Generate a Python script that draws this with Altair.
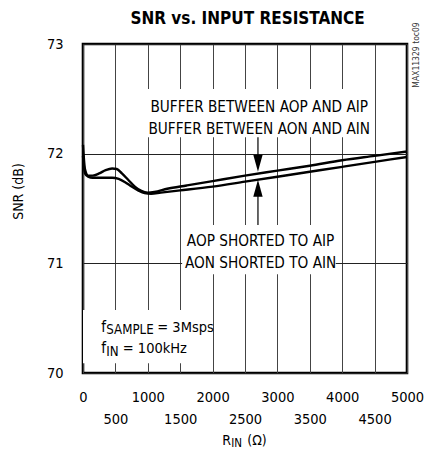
import altair as alt
import pandas as pd

FONT = "DejaVu Sans Condensed, sans-serif"

# --- data ---
buf_r = [0, 30, 80, 150, 250, 350, 450, 520, 600, 700, 800, 900, 1000, 1100, 1300, 1600, 2000, 2500, 3000, 3500, 4000, 4500, 5000]
buf_snr = [72.08, 71.86, 71.80, 71.80, 71.82, 71.85, 71.865, 71.86, 71.82, 71.76, 71.70, 71.66, 71.645, 71.65, 71.68, 71.71, 71.75, 71.80, 71.845, 71.89, 71.94, 71.98, 72.02]

sh_r = [0, 30, 80, 150, 300, 450, 550, 650, 750, 850, 950, 1050, 1200, 1500, 2000, 2500, 3000, 3500, 4000, 4500, 5000]
sh_snr = [71.98, 71.82, 71.79, 71.78, 71.78, 71.78, 71.77, 71.74, 71.70, 71.665, 71.64, 71.635, 71.645, 71.665, 71.70, 71.745, 71.79, 71.835, 71.88, 71.925, 71.97]

x_ticks = list(range(0, 5001, 500))
y_ticks = [70, 71, 72, 73]

title_text = "SNR vs. INPUT RESISTANCE"
buf_labels = ["BUFFER BETWEEN AOP AND AIP", "BUFFER BETWEEN AON AND AIN"]
sh_labels = ["AOP SHORTED TO AIP", "AON SHORTED TO AIN"]

curves = pd.DataFrame(
    {"R": buf_r + sh_r,
     "SNR": buf_snr + sh_snr,
     "series": ["Buffer"] * len(buf_r) + ["Shorted"] * len(sh_r)}
)

xaxis = alt.Axis(
    values=x_ticks, format="d", grid=True, gridColor="#444", gridWidth=1,
    domain=False, ticks=False, tickSize=0,
    labelFont=FONT, labelFontSize=14.5, labelColor="#000",
    labelFlush=False, labelOverlap=False,
    labelPadding={"condition": {"test": "datum.value % 1000 != 0", "value": 39}, "value": 17},
    title=None,
)
yaxis = alt.Axis(
    values=y_ticks, format="d", grid=True, gridColor="#222", gridWidth=1,
    domain=False, ticks=False, tickSize=0,
    labelFont=FONT, labelFontSize=14.5, labelColor="#000", labelPadding=20,
    labelFlush=False,
    title="SNR (dB)", titleFont=FONT, titleFontSize=14, titleFontWeight="normal",
    titleColor="#000", titleAngle=270, titleX=-65, titleY=147,
    titleAlign="center", titleBaseline="middle",
)

XS = alt.Scale(domain=[0, 5000], nice=False, zero=False)
YS = alt.Scale(domain=[70, 73], nice=False, zero=False)
X = alt.X("R:Q", scale=XS, axis=xaxis)
Y = alt.Y("SNR:Q", scale=YS, axis=yaxis)

# white label backgrounds (data units)
boxes = pd.DataFrame({
    "R": [950, 1530, 0],
    "R2": [4350, 3900, 1750],
    "SNR": [72.15, 70.90, 70.09],
    "SNR2": [72.59, 71.35, 70.575],
})
box_layer = alt.Chart(boxes).mark_rect(fill="white", stroke=None).encode(
    x=X, x2="R2:Q", y=Y, y2="SNR2:Q"
)

line_layer = alt.Chart(curves).mark_line(color="#000", strokeWidth=2.4, interpolate="monotone").encode(
    x=X, y=Y, detail="series:N"
)

# arrows
arrow_r = 2700
rules = pd.DataFrame({"R": [arrow_r, arrow_r], "SNR": [72.15, 71.685], "SNR2": [71.912, 71.35]})
rule_layer = alt.Chart(rules).mark_rule(color="#000", strokeWidth=1.2).encode(x=X, y=Y, y2="SNR2:Q")

heads_down = pd.DataFrame({"R": [arrow_r], "SNR": [71.912]})
heads_up = pd.DataFrame({"R": [arrow_r], "SNR": [71.685]})
head_down_layer = alt.Chart(heads_down).mark_point(
    shape="M-0.55,-1L0.55,-1L0,1Z", size=289, filled=True, color="#000", opacity=1
).encode(x=X, y=Y)
head_up_layer = alt.Chart(heads_up).mark_point(
    shape="M-0.55,1L0.55,1L0,-1Z", size=289, filled=True, color="#000", opacity=1
).encode(x=X, y=Y)

# annotation text
buf_txt = pd.DataFrame({"R": [2720, 2720], "SNR": [72.383, 72.18], "t": buf_labels})
sh_txt = pd.DataFrame({"R": [2740, 2740], "SNR": [71.161, 70.955], "t": sh_labels})
txt_kw = dict(font=FONT, fontSize=15.2, color="#000", align="center", baseline="alphabetic")
buf_txt_layer = alt.Chart(buf_txt).mark_text(**txt_kw).encode(x=X, y=Y, text="t:N")
sh_txt_layer = alt.Chart(sh_txt).mark_text(**txt_kw).encode(x=X, y=Y, text="t:N")

# f_SAMPLE / f_IN conditions
cond = pd.DataFrame({"R": [282, 282], "SNR": [70.377, 70.18],
                     "f": ["f", "f"], "sub": ["SAMPLE", "IN"], "rest": ["= 3Msps", "= 100kHz"]})
left_kw = dict(font=FONT, color="#000", align="left", baseline="alphabetic")
f_layer = alt.Chart(cond).mark_text(fontSize=15, **left_kw).encode(x=X, y=Y, text="f:N")
sub_layer = alt.Chart(cond).mark_text(fontSize=13.2, dx=5, dy=2.5, **left_kw).encode(x=X, y=Y, text="sub:N")
rest1 = alt.Chart(cond.iloc[[0]]).mark_text(fontSize=14.5, dx=56, **left_kw).encode(x=X, y=Y, text="rest:N")
rest2 = alt.Chart(cond.iloc[[1]]).mark_text(fontSize=14.5, dx=21.5, **left_kw).encode(x=X, y=Y, text="rest:N")

# x-axis title R_IN (Ω)
xt = pd.DataFrame({"R": [2150], "SNR": [69.345], "a": ["R"], "b": ["IN"], "c": ["(Ω)"]})
xt_a = alt.Chart(xt).mark_text(fontSize=14, **left_kw).encode(x=X, y=Y, text="a:N")
xt_b = alt.Chart(xt).mark_text(fontSize=11.5, dx=9, dy=2.5, **left_kw).encode(x=X, y=Y, text="b:N")
xt_c = alt.Chart(xt).mark_text(fontSize=14, dx=25, **left_kw).encode(x=X, y=Y, text="c:N")

# chart title (as text above the plot)
tt = pd.DataFrame({"R": [2540], "SNR": [73.182], "t": [title_text]})
title_layer = alt.Chart(tt).mark_text(font=FONT, fontSize=17, fontWeight="bold", color="#000",
                                      align="center", baseline="alphabetic").encode(x=X, y=Y, text="t:N")

# side code
side = pd.DataFrame({"R": [5136], "SNR": [72.90], "t": ["MAX11329 toc09"]})
side_layer = alt.Chart(side).mark_text(font=FONT, fontSize=8.5, color="#333", angle=270,
                                       align="center", baseline="middle").encode(x=X, y=Y, text="t:N")

chart = alt.layer(
    box_layer, line_layer, rule_layer, head_down_layer, head_up_layer,
    buf_txt_layer, sh_txt_layer, f_layer, sub_layer, rest1, rest2,
    xt_a, xt_b, xt_c, title_layer, side_layer,
).properties(
    width=324, height=329,
    autosize=alt.AutoSizeParams(type="none"),
    padding={"left": 75, "top": 36, "right": 17, "bottom": 76},
).configure_view(stroke="#000", strokeWidth=2.6)

chart.save("out.html", embed_options={"renderer": "svg", "actions": False})
